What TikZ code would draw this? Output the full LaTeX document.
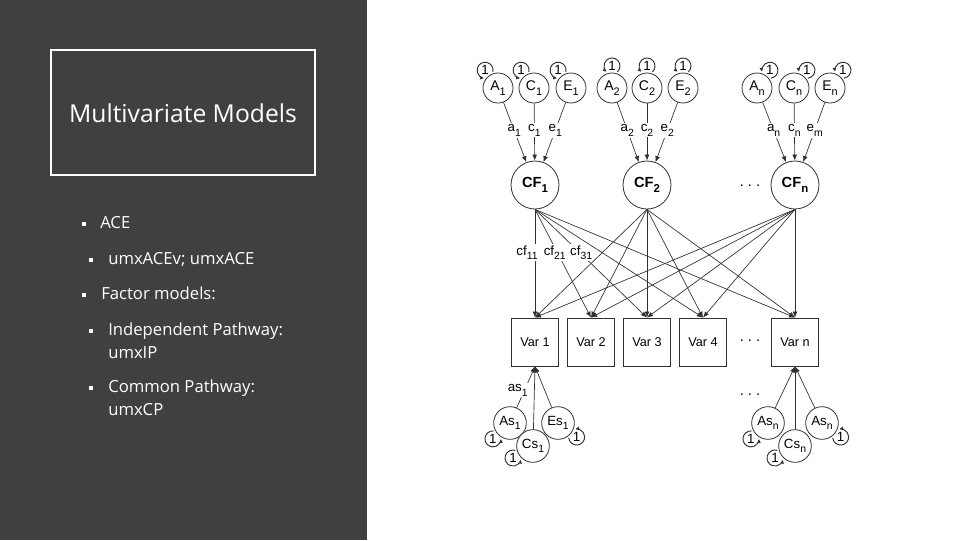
\documentclass[tikz,border=0pt]{standalone}
\usepackage{fontspec}
\setmainfont{Open Sans}
\newfontfamily\arialfont{Liberation Sans}
\usetikzlibrary{arrows.meta,calc}

\definecolor{slidegray}{HTML}{404040}
\definecolor{pathgray}{HTML}{303030}

% lowered index, as in the path diagram
\newcommand{\ix}[1]{\raisebox{-0.32em}{\scalebox{0.78}{#1}}}
% variance loop with its 1: #1 = node, #2 = direction, #3 = distance
\newcommand{\oneloop}[3]{%
  \node[unit] (#1one) at ($(#1)+(#2:#3)$) {1};
  \draw[loopline] ($(#1one)+(#2+222:6pt)$) arc[start angle=#2+222, delta angle=276, radius=6pt];}

\begin{document}
\begin{tikzpicture}[x=0.75pt,y=-0.75pt,
  lat/.style={circle, draw=pathgray, fill=white, line width=0.6pt, minimum size=22.5pt, inner sep=0pt, font=\arialfont\fontsize{10.5}{12}\selectfont},
  spec/.style={lat, minimum size=24.5pt, font=\arialfont\fontsize{10}{12}\selectfont},
  cf/.style={circle, draw=pathgray, line width=0.6pt, minimum size=36pt, inner sep=0pt, font=\arialfont\bfseries\fontsize{11}{12}\selectfont},
  obs/.style={rectangle, draw=pathgray, line width=0.6pt, minimum width=35.25pt, minimum height=36pt, inner sep=0pt, font=\arialfont\fontsize{9.5}{12}\selectfont},
  causal/.style={draw=pathgray, line width=0.5pt, -{Latex[length=4.5pt,width=3.6pt]}},
  lbl/.style={fill=white, inner sep=1pt, font=\arialfont\fontsize{10}{12}\selectfont},
  loopline/.style={draw=pathgray, line width=0.7pt, -{Latex[length=3pt,width=2.8pt]}},
  unit/.style={inner sep=0pt, font=\arialfont\fontsize{10}{10}\selectfont},
  ellip/.style={font=\arialfont\fontsize{11}{12}\selectfont},
  bullettext/.style={text=white, inner sep=0pt, anchor=base west, font=\fontsize{12.5}{14}\selectfont},
  bul/.style={rectangle, fill=white, minimum size=2.4pt, inner sep=0pt}]

\useasboundingbox (0,0) rectangle (960,540);
\fill[white] (0,0) rectangle (960,540);
\fill[slidegray] (0,0) rectangle (367,540);

% left panel
\draw[white, line width=2pt] (51,50) rectangle (315,175);
\node[text=white, font=\fontsize{18.5}{20}\selectfont] (title) at (183,113) {Multivariate Models};

\node[bul] (b1) at (84,224) {};
\node[bullettext] (t1) at (100,228) {ACE};
\node[bul] (b2) at (91,260) {};
\node[bullettext] (t2) at (108,264) {umxACEv; umxACE};
\node[bul] (b3) at (84,295) {};
\node[bullettext] (t3) at (101,299) {Factor models:};
\node[bul] (b4) at (91,331) {};
\node[bullettext] (t4) at (108,335) {Independent Pathway:};
\node[bullettext] (t4b) at (108,358) {umxIP};
\node[bul] (b5) at (91,388) {};
\node[bullettext] (t5) at (108,392) {Common Pathway:};
\node[bullettext] (t5b) at (108,415) {umxCP};

% genetic factors
\node[lat] (A1) at (498,88) {A\ix{1}};
\node[lat] (C1) at (534,88) {C\ix{1}};
\node[lat] (E1) at (571,88) {E\ix{1}};
\node[lat] (A2) at (612,88) {A\ix{2}};
\node[lat] (C2) at (647,88) {C\ix{2}};
\node[lat] (E2) at (683,88) {E\ix{2}};
\node[lat] (An) at (757,88) {A\ix{n}};
\node[lat] (Cn) at (794,88) {C\ix{n}};
\node[lat] (En) at (830,88) {E\ix{n}};

\foreach \n in {A1,C1,E1} {\oneloop{\n}{126}{16.5pt}}
\foreach \n in {A2,C2,E2} {\oneloop{\n}{90}{16.5pt}}
\foreach \n in {An,Cn,En} {\oneloop{\n}{54}{16.5pt}}

% common factors
\node[cf] (CF1) at (535,185) {CF\ix{1}};
\node[cf] (CF2) at (647,185) {CF\ix{2}};
\node[cf] (CFn) at (795,185) {CF\ix{n}};
\node[ellip] (d1) at (750,186) {.\hspace{3pt}.\hspace{3pt}.};

\draw[causal] (A1) -- node[lbl, pos=.47] {a\ix{1}} (CF1);
\draw[causal] (C1) -- node[lbl, pos=.47] {c\ix{1}} (CF1);
\draw[causal] (E1) -- node[lbl, pos=.47] {e\ix{1}} (CF1);
\draw[causal] (A2) -- node[lbl, pos=.47] {a\ix{2}} (CF2);
\draw[causal] (C2) -- node[lbl, pos=.47] {c\ix{2}} (CF2);
\draw[causal] (E2) -- node[lbl, pos=.47] {e\ix{2}} (CF2);
\draw[causal] (An) -- node[lbl, pos=.47] {a\ix{n}} (CFn);
\draw[causal] (Cn) -- node[lbl, pos=.47] {c\ix{n}} (CFn);
\draw[causal] (En) -- node[lbl, pos=.47] {e\ix{m}} (CFn);

% measured variables
\node[obs] (V1) at (535,342) {Var 1};
\node[obs] (V2) at (591,342) {Var 2};
\node[obs] (V3) at (647,342) {Var 3};
\node[obs] (V4) at (703,342) {Var 4};
\node[obs] (Vn) at (795,342) {Var n};
\node[ellip] (d2) at (750,341) {.\hspace{3pt}.\hspace{3pt}.};

\foreach \v in {V1,V2,V3,V4,Vn} {
  \draw[causal] (CF2.south) -- (\v.north);
  \draw[causal] (CFn.south) -- (\v.north);
}
\draw[causal] (CF1.south) -- node[lbl, pos=.4, xshift=-6pt] {cf\ix{11}} (V1.north);
\draw[causal] (CF1.south) -- node[lbl, pos=.4, xshift=-2pt] {cf\ix{21}} (V2.north);
\draw[causal] (CF1.south) -- node[lbl, pos=.4, xshift=1pt] {cf\ix{31}} (V3.north);
\draw[causal] (CF1.south) -- (V4.north);
\draw[causal] (CF1.south) -- (Vn.north);

% specific factors
\node[spec] (As1) at (510,423) {As\ix{1}};
\node[spec] (Es1) at (558,423) {Es\ix{1}};
\node[spec] (Cs1) at (533,446) {Cs\ix{1}};
\node[spec] (Asn) at (768,423) {As\ix{n}};
\node[spec] (Esn) at (822,423) {As\ix{n}};
\node[spec] (Csn) at (795,446) {Cs\ix{n}};
\node[ellip] (d3) at (750,395) {.\hspace{3pt}.\hspace{3pt}.};

\draw[causal] (As1) -- node[lbl, pos=.42, xshift=-5pt] {as\ix{1}} (V1.south);
\draw[causal] (Cs1) -- (V1.south);
\draw[causal] (Es1) -- (V1.south);
\draw[causal] (Asn) -- (Vn.south);
\draw[causal] (Csn) -- (Vn.south);
\draw[causal] (Esn) -- (Vn.south);

\oneloop{As1}{223}{17.5pt}
\oneloop{Cs1}{211}{17.5pt}
\oneloop{Es1}{323}{17.5pt}
\oneloop{Asn}{223}{17.5pt}
\oneloop{Csn}{211}{17.5pt}
\oneloop{Esn}{323}{17.5pt}
\end{tikzpicture}
\end{document}
